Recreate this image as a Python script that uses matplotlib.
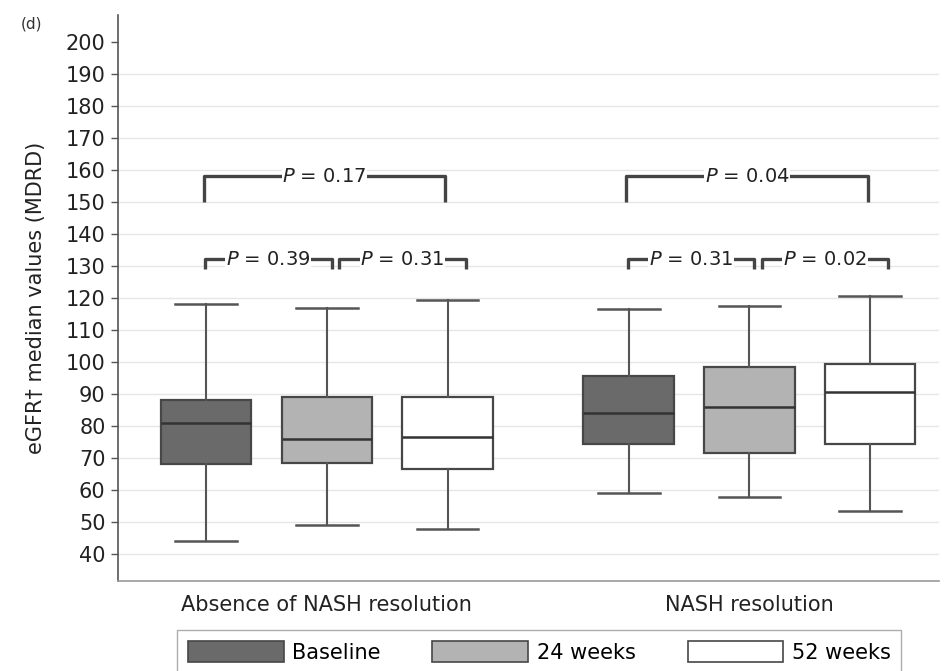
import matplotlib
matplotlib.use("Agg")
import matplotlib.pyplot as plt
from matplotlib.patches import Patch

plt.rcParams['font.family'] = ['DejaVu Sans']
plt.rcParams['mathtext.fontset'] = 'dejavusans'

# eGFR (MDRD) box summaries, one row per group, one column per visit
groups = ["Absence of NASH resolution", "NASH resolution"]
visits = ["Baseline", "24 weeks", "52 weeks"]
whislo = [[44, 49, 48], [59, 58, 53.5]]
q1 = [[68, 68.5, 66.5], [74.5, 71.5, 74.5]]
med = [[81, 76, 76.5], [84, 86, 90.5]]
q3 = [[88, 89, 89], [95.5, 98.5, 99.5]]
whishi = [[118, 117, 119.5], [116.5, 117.5, 120.5]]

# pairwise comparisons: (first visit, second visit, P)
pvals = [
    [(0, 1, "0.39"), (1, 2, "0.31"), (0, 2, "0.17")],
    [(0, 1, "0.31"), (1, 2, "0.02"), (0, 2, "0.04")],
]

fills = ["#6a6a6a", "#b3b3b3", "#ffffff"]
edge = "#474747"

fig = plt.figure(figsize=(9.48, 6.71), dpi=100)
ax = fig.add_axes([0.1245, 0.134, 0.866, 0.844])

group_starts = [1.0, 4.5]
for g in range(len(groups)):
    stats = []
    for v in range(len(visits)):
        stats.append(dict(med=med[g][v], q1=q1[g][v], q3=q3[g][v],
                          whislo=whislo[g][v], whishi=whishi[g][v], fliers=[]))
    pos = [group_starts[g] + i for i in range(len(visits))]
    bp = ax.bxp(stats, positions=pos, widths=0.75, patch_artist=True,
                showfliers=False, manage_ticks=False,
                boxprops=dict(linewidth=1.6, edgecolor=edge),
                medianprops=dict(color="#333333", linewidth=1.8),
                whiskerprops=dict(color="#555555", linewidth=1.5),
                capprops=dict(color="#555555", linewidth=1.8),
                capwidths=0.51)
    for box, c in zip(bp["boxes"], fills):
        box.set_facecolor(c)

    # significance brackets
    for a, b, p in pvals[g]:
        xa, xb = pos[a], pos[b]
        if b - a == 2:
            y, drop = 158, 8
            xa -= 0.02
            xb -= 0.02
        else:
            y, drop = 132, 3
            if a == 1:
                xa += 0.1
                xb += 0.15
            else:
                xa -= 0.01
                xb += 0.04
        ax.plot([xa, xa, xb, xb], [y - drop, y, y, y - drop],
                color="#444444", lw=2.4, solid_capstyle="butt", zorder=3)
        ax.text((xa + xb) / 2, y, f"$P$ = {p}", ha="center", va="center",
                fontsize=14, color="#222222", zorder=4,
                bbox=dict(facecolor="white", edgecolor="none", pad=0.5))

ax.set_xlim(0.27, 7.07)
ax.set_ylim(31.6, 208.4)
ax.set_yticks(range(40, 201, 10))
ax.set_xticks([group_starts[0] + 1, group_starts[1] + 1])
ax.set_xticklabels(groups, fontsize=15)
ax.tick_params(axis="x", length=0, pad=10, colors="#222222")
ax.tick_params(axis="y", labelsize=15, length=5, width=1, color="#555555",
               labelcolor="#222222", pad=4)

ax.yaxis.grid(True, color="#e6e6e6", linewidth=1)
ax.get_ygridlines()[-1].set_visible(False)
ax.set_axisbelow(True)

for side in ["top", "right"]:
    ax.spines[side].set_visible(False)
ax.spines["left"].set_color("#555555")
ax.spines["left"].set_linewidth(1.2)
ax.spines["bottom"].set_color("#9a9a9a")
ax.spines["bottom"].set_linewidth(1.2)

ax.set_ylabel("eGFR\u2020 median values (MDRD)", fontsize=15, color="#222222", labelpad=14)

fig.text(0.022, 0.958, "(d)", fontsize=11, color="#333333")

handles = [Patch(facecolor=c, edgecolor=edge, linewidth=1.2, label=l)
           for c, l in zip(fills, visits)]
fig.legend(handles=handles, loc="upper left", bbox_to_anchor=(0.176, 1 - 620 / 671),
           ncol=3, fontsize=15, frameon=True, fancybox=False, edgecolor="#999999",
           handlelength=4.6, handleheight=1.2, handletextpad=0.4,
           columnspacing=2.5, borderpad=0.5)

fig.savefig("out.png", dpi=100)
